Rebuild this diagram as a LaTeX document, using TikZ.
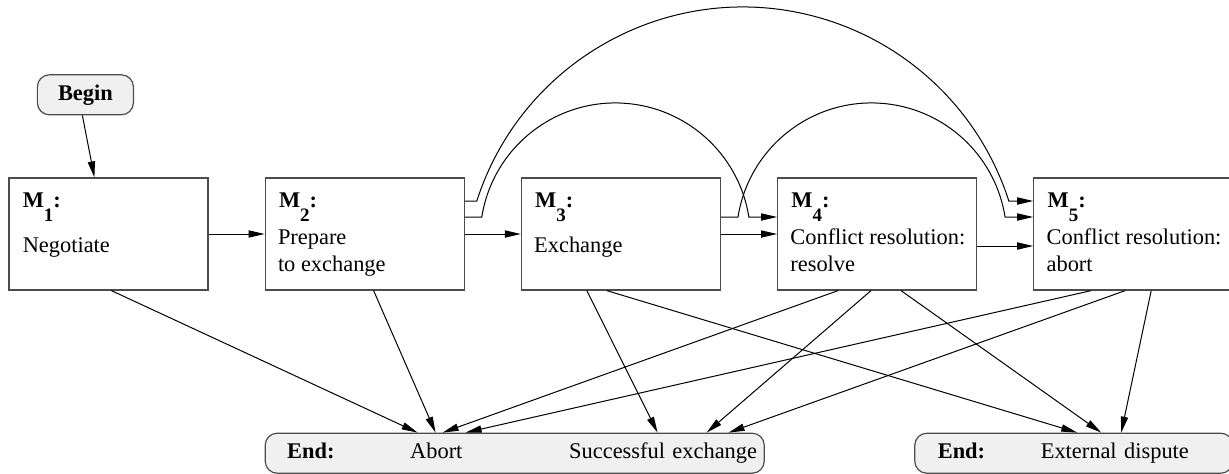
\documentclass[tikz,border=0pt]{standalone}
\usepackage{fontspec}
\setmainfont{Liberation Serif}
\usetikzlibrary{arrows.meta, positioning}
\newcommand{\modname}[1]{\textbf{M\raisebox{-7pt}{\fontsize{9.5}{9.5}\selectfont\bfseries #1}:}}

\begin{document}
\begin{tikzpicture}[
  node distance=28pt,
  font=\fontsize{11.2}{13.5}\selectfont,
  module/.style={rectangle, draw=black!70, line width=0.6pt, minimum width=99.5pt, minimum height=56pt, inner sep=0pt},
  txt/.style={inner sep=0pt, align=left, anchor=base west},
  term/.style={rectangle, draw=black!70, line width=0.6pt, rounded corners=6pt, fill=black!6, minimum height=20pt, inner sep=0pt},
  arr/.style={-{Triangle[length=8pt,width=3.6pt]}, line width=0.5pt}
]

\useasboundingbox (-54.25pt,-119.5pt) rectangle (560.25pt,117pt);

\node[module] (m1) at (0,0) {};
\node[module, right=of m1] (m2) {};
\node[module, right=of m2] (m3) {};
\node[module, right=of m3] (m4) {};
\node[module, right=of m4] (m5) {};

\node[txt] (m1n) at ([shift={(7pt,-15pt)}]m1.north west) {\modname{1}};
\node[txt] (m1t) at ([shift={(7pt,-37.5pt)}]m1.north west) {Negotiate};
\node[txt] (m2n) at ([shift={(7pt,-15pt)}]m2.north west) {\modname{2}};
\node[txt] (m2t) at ([shift={(6.5pt,-47pt)}]m2.north west) {Prepare\\to exchange};
\node[txt] (m3n) at ([shift={(7pt,-15pt)}]m3.north west) {\modname{3}};
\node[txt] (m3t) at ([shift={(6.5pt,-37.5pt)}]m3.north west) {Exchange};
\node[txt] (m4n) at ([shift={(7pt,-15pt)}]m4.north west) {\modname{4}};
\node[txt] (m4t) at ([shift={(6.5pt,-47pt)}]m4.north west) {Conflict resolution:\\resolve};
\node[txt] (m5n) at ([shift={(7pt,-15pt)}]m5.north west) {\modname{5}};
\node[txt] (m5t) at ([shift={(6.5pt,-47pt)}]m5.north west) {Conflict resolution:\\abort};

\node[term, minimum width=48pt, font=\fontsize{11.2}{13.5}\selectfont\bfseries, above=31pt of m1.north west, xshift=38.5pt] (begin) {Begin};
\node[term, text width=249.5pt, align=left, below=71pt of m2.south west, anchor=north west] (end1)
  {\hspace*{11pt}\makebox[61.5pt][l]{\textbf{End:}}\makebox[79.5pt][l]{Abort}Successful exchange};
\node[term, text width=159pt, align=left, below=71pt of m5.south east, anchor=north east] (end2)
  {\hspace*{11.5pt}\makebox[51.5pt][l]{\textbf{End:}}External dispute};

% connections
\draw[arr] ([xshift=-1.5pt]begin.south) -- ([xshift=43pt]m1.north west);
\draw[arr] (m1) -- (m2);
\draw[arr] (m2) -- (m3);
\draw[arr] (m3) -- (m4);
\draw[arr] ([yshift=-6pt]m4.east) -- ([yshift=-6pt]m5.west);

% jumps over the row
\draw[arr] ([yshift=16.5pt]m2.east) -- ++(6pt,0) arc[start angle=162.2, end angle=17.8, radius=139.7pt] -- ([yshift=16.5pt]m5.west);
\draw[arr] ([yshift=8.5pt]m2.east) -- ++(8.5pt,0) arc[start angle=171, end angle=9, radius=67.6pt] -- ([yshift=8.5pt]m4.west);
\draw[arr] ([yshift=8.5pt]m3.east) -- ++(8.5pt,0) arc[start angle=171, end angle=9, radius=67.6pt] -- ([yshift=8.5pt]m5.west);

% to the end states
\draw[arr] ([xshift=51.5pt]m1.south west) -- ([xshift=76.5pt]end1.north west);
\draw[arr] ([xshift=54.5pt]m2.south west) -- ([xshift=85.5pt]end1.north west);
\draw[arr] ([xshift=30.5pt]m4.south west) -- ([xshift=89pt]end1.north west);
\draw[arr] ([xshift=29pt]m5.south west) -- ([xshift=100.5pt]end1.north west);
\draw[arr] ([xshift=33pt]m3.south west) -- ([xshift=196.5pt]end1.north west);
\draw[arr] ([xshift=47pt]m4.south west) -- ([xshift=221pt]end1.north west);
\draw[arr] ([xshift=46pt]m5.south west) -- ([xshift=232pt]end1.north west);
\draw[arr] ([xshift=43pt]m3.south west) -- ([xshift=81.5pt]end2.north west);
\draw[arr] ([xshift=62pt]m4.south west) -- ([xshift=93.5pt]end2.north west);
\draw[arr] ([xshift=59pt]m5.south west) -- ([xshift=103.5pt]end2.north west);

\end{tikzpicture}
\end{document}
